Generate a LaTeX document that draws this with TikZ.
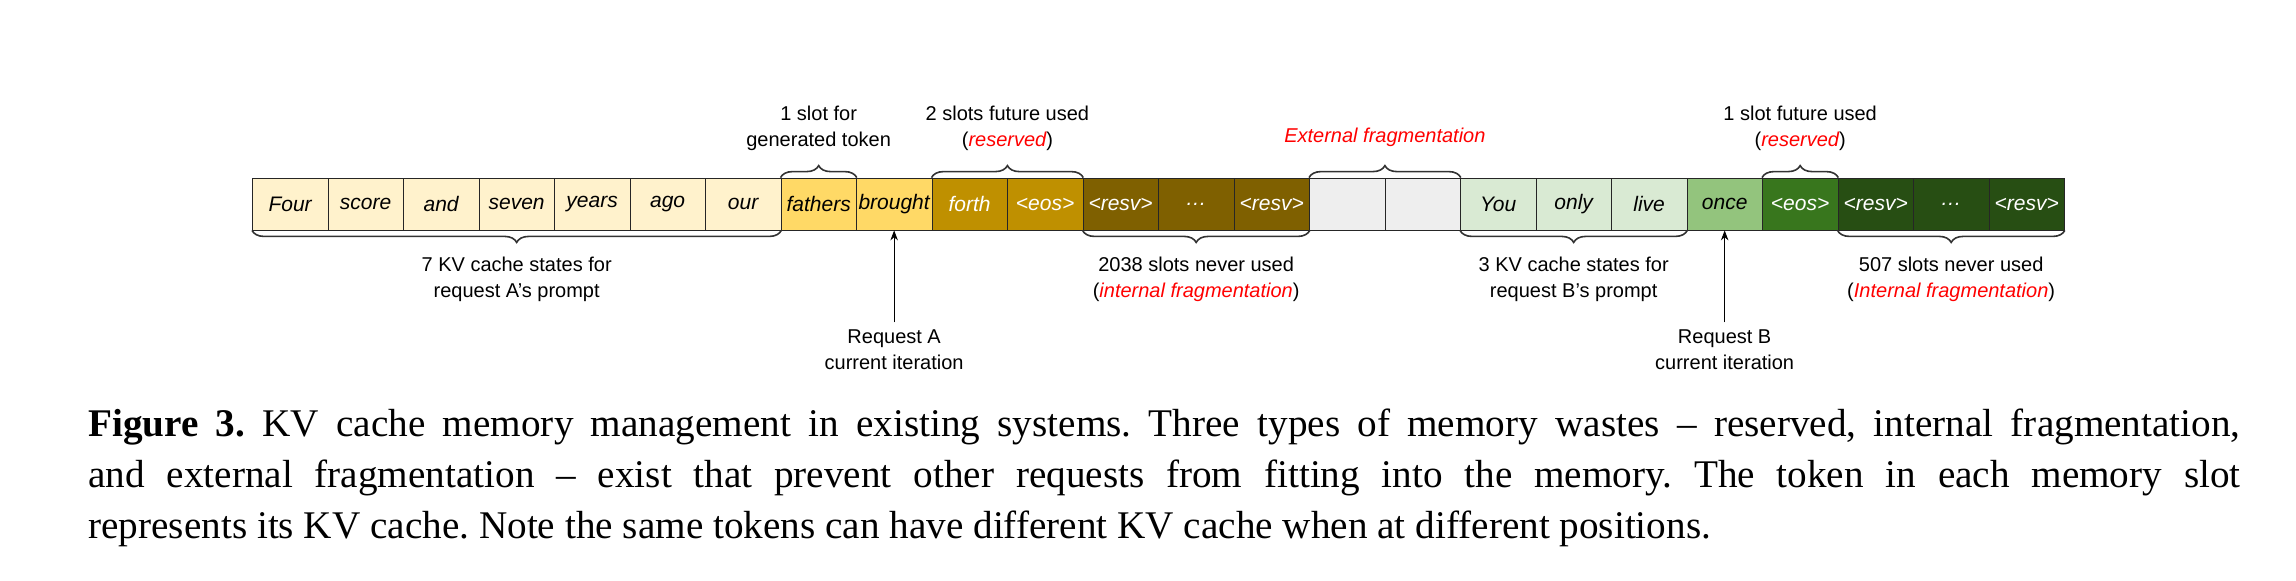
\documentclass[tikz,border=0pt]{standalone}
\usepackage{fontspec}
\setmainfont{Liberation Serif}
\setsansfont{Liberation Sans}
\usetikzlibrary{positioning,decorations.pathreplacing,arrows.meta}
\definecolor{promptA}{HTML}{FFF2CC}
\definecolor{genA}{HTML}{FFD966}
\definecolor{rsvA}{HTML}{BF9000}
\definecolor{unA}{HTML}{7F6000}
\definecolor{freeS}{HTML}{EEEEEE}
\definecolor{promptB}{HTML}{D9EAD3}
\definecolor{genB}{HTML}{93C47D}
\definecolor{rsvB}{HTML}{38761D}
\definecolor{unB}{HTML}{274E13}
\definecolor{fragred}{HTML}{FF0000}
\tikzset{
  slot/.style={draw=black!85, minimum width=37.75pt, minimum height=26pt, inner sep=0pt,
    font=\sffamily\itshape\fontsize{10.5}{12}\selectfont, anchor=west},
  note/.style={font=\sffamily\fontsize{10}{13}\selectfont, align=center},
  brc/.style={decorate, decoration={brace, amplitude=6pt}, thick, black!80},
}
\begin{document}
\begin{tikzpicture}[x=0.5pt,y=-0.5pt]
\useasboundingbox (0,0) rectangle (2296,580);
% Slots
\foreach \i/\t/\c/\f in {1/Four/promptA/black, 2/score/promptA/black, 3/and/promptA/black,
  4/seven/promptA/black, 5/years/promptA/black, 6/ago/promptA/black, 7/our/promptA/black,
  8/fathers/genA/black, 9/brought/genA/black, 10/forth/rsvA/white, 11/<eos>/rsvA/white,
  12/<resv>/unA/white, 13/\ldots/unA/white, 14/<resv>/unA/white, 15/{}/freeS/black, 16/{}/freeS/black,
  17/You/promptB/black, 18/only/promptB/black, 19/live/promptB/black, 20/once/genB/black,
  21/<eos>/rsvB/white, 22/<resv>/unB/white, 23/\ldots/unB/white, 24/<resv>/unB/white}
  \node[slot, fill=\c, text=\f] (c\i) at ({252+75.5*(\i-1)},204) {\t};
% Braces above
\draw[brc] (c8.north west) -- (c8.north east) coordinate[midway] (b1);
\draw[brc] (c10.north west) -- (c11.north east) coordinate[midway] (b2);
\draw[brc] (c15.north west) -- (c16.north east) coordinate[midway] (b3);
\draw[brc] (c21.north west) -- (c21.north east) coordinate[midway] (b4);
\node[note, above=10pt of b1] (n1) {1 slot for\\generated token};
\node[note, above=10pt of b2] (n2) {2 slots future used\\(\textcolor{fragred}{\itshape reserved})};
\node[note, above=12pt of b3, text=fragred, font=\sffamily\itshape\fontsize{10}{13}\selectfont] (n3) {External fragmentation};
\node[note, above=10pt of b4] (n4) {1 slot future used\\(\textcolor{fragred}{\itshape reserved})};
% Braces below
\draw[brc] (c7.south east) -- (c1.south west) coordinate[midway] (d1);
\draw[brc] (c14.south east) -- (c12.south west) coordinate[midway] (d2);
\draw[brc] (c19.south east) -- (c17.south west) coordinate[midway] (d3);
\draw[brc] (c24.south east) -- (c22.south west) coordinate[midway] (d4);
\node[note, below=10pt of d1] (m1) {7 KV cache states for\\request A's prompt};
\node[note, below=10pt of d2] (m2) {2038 slots never used\\(\textcolor{fragred}{\itshape internal fragmentation})};
\node[note, below=10pt of d3] (m3) {3 KV cache states for\\request B's prompt};
\node[note, below=10pt of d4] (m4) {507 slots never used\\(\textcolor{fragred}{\itshape Internal fragmentation})};
% Current iteration
\node[note, below=46pt of c9.south] (ra) {Request A\\current iteration};
\node[note, below=46pt of c20.south] (rb) {Request B\\current iteration};
\draw[-{Stealth[length=5pt]}] (ra.north) -- (c9.south);
\draw[-{Stealth[length=5pt]}] (rb.north) -- (c20.south);
% Caption
\node[anchor=north west, text width=1076pt, align=justify, inner sep=0pt,
  font=\frenchspacing\fontsize{19.6}{25.5}\selectfont] (cap) at (88,408)
  {\textbf{Figure 3.} KV cache memory management in existing systems. Three types of memory wastes -- reserved, internal fragmentation,\linebreak and external fragmentation -- exist that prevent other requests from fitting into the memory. The token in each memory slot\linebreak represents its KV cache. Note the same tokens can have different KV cache when at different positions.};
\end{tikzpicture}
\end{document}
